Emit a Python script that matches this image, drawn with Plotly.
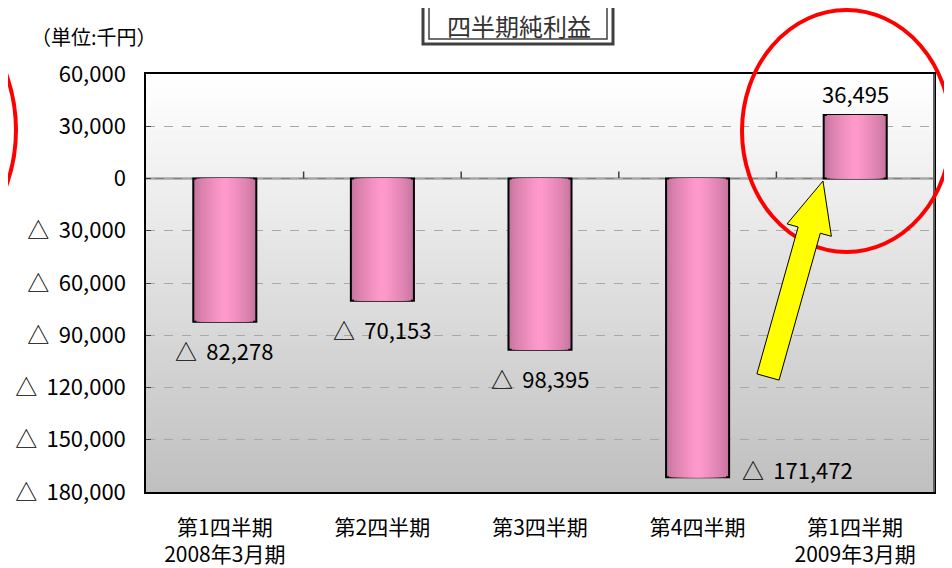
import plotly.graph_objects as go

# data
categories = ["第1四半期<br>2008年3月期", "第2四半期", "第3四半期", "第4四半期", "第1四半期<br>2009年3月期"]
profits = [-82278, -70153, -98395, -171472, 36495]
tick_vals = [60000, 30000, 0, -30000, -60000, -90000, -120000, -150000, -180000]
tick_text = ["60,000", "30,000", "0", "△\u2009 30,000", "△\u2009 60,000", "△\u2009 90,000",
             "△\u2009 120,000", "△\u2009 150,000", "△\u2009 180,000"]

# the page body has an 8px margin, so lay out in screen pixels and shift
OFF = 8
W, H = 952, 568
PL, PT, PW, PH = 146, 74, 788, 418          # plot area on screen
L, T = PL - OFF, PT - OFF
R, B = W - L - PW, H - T - PH
FONT = "Noto Sans CJK JP"


def px(x, y):
    # screen pixel -> paper coords
    return (x - PL) / PW, (PT + PH - y) / PH


def mix(c1, c2, t):
    return "rgb(%d,%d,%d)" % tuple(round(a + (b - a) * t) for a, b in zip(c1, c2))


fig = go.Figure()

# bars: overlaid narrower bars fake the horizontal gradient
x = list(range(len(categories)))
steps = 10
for i in range(steps):
    t = i / (steps - 1)
    w = 0.4 * (1 - t) + 0.04 * t
    fig.add_trace(go.Bar(
        x=x, y=profits, width=w,
        marker=dict(color=mix((200, 118, 160), (255, 153, 204), t ** 0.8),
                    line=dict(color="black", width=2 if i == 0 else 0)),
        hoverinfo="skip", showlegend=False,
    ))

# value labels
for i, v in enumerate(profits):
    text = f"{v:,}" if v >= 0 else f"△\u2009 {abs(v):,}"
    if v >= 0:
        fig.add_annotation(x=i, y=v, text=text, showarrow=False, yanchor="bottom", yshift=4)
    elif v < -150000:
        fig.add_annotation(x=i, y=v, text=text, showarrow=False, xanchor="left",
                           xshift=42, yanchor="middle", yshift=8)
    else:
        fig.add_annotation(x=i, y=v, text=text, showarrow=False, yanchor="top", yshift=-10)

# background gradient of the plot area (overlapping strips, no seams)
n = 60
for k in range(n):
    t = k / (n - 1)
    fig.add_shape(type="rect", xref="x domain", yref="y domain",
                  x0=0, x1=1, y0=0, y1=1 - k / n,
                  fillcolor=mix((255, 255, 255), (192, 192, 192), t),
                  line=dict(width=0), layer="below")

# zero line and category ticks on it
fig.add_shape(type="line", xref="x domain", yref="y", x0=0, x1=1, y0=0, y1=0,
              line=dict(color="#808080", width=2), layer="below")
for b in [0.5, 1.5, 2.5, 3.5]:
    fig.add_shape(type="line", xref="x", yref="y", x0=b, x1=b, ysizemode="pixel",
                  yanchor=0, y0=0, y1=7, line=dict(color="#404040", width=1.5), layer="below")

# right border is grey in the original
fig.add_shape(type="line", xref="x domain", yref="y domain", x0=1, x1=1, y0=0, y1=1,
              line=dict(color="#606060", width=2))

# title box (double border)
for (x0, y0, x1, y1, lw) in [(423, -20, 613, 44, 3), (429, -20, 607, 39, 1.5)]:
    a0, b0 = px(x0, y1)
    a1, b1 = px(x1, y0)
    fig.add_shape(type="rect", xref="paper", yref="paper", x0=a0, y0=b0, x1=a1, y1=b1,
                  line=dict(color="#404040", width=lw), fillcolor="rgba(0,0,0,0)")
tx, ty = px(519, 25)
fig.add_annotation(xref="paper", yref="paper", x=tx, y=ty, text="四半期純利益",
                   xanchor="center", yanchor="middle", showarrow=False,
                   font=dict(size=24, color="#333333"))

ux, uy = px(94, 36)
fig.add_annotation(xref="paper", yref="paper", x=ux, y=uy, text="（単位:千円）",
                   xanchor="center", yanchor="middle", showarrow=False, font=dict(size=20))

# red ellipses
for (x0, y0, x1, y1) in [(742, 10, 951, 252), (-224, -11, 16, 271)]:
    a0, b0 = px(x0, y1)
    a1, b1 = px(x1, y0)
    fig.add_shape(type="circle", xref="paper", yref="paper", x0=a0, y0=b0, x1=a1, y1=b1,
                  line=dict(color="red", width=4))

# yellow arrow
tip = (823, 181)
tail = (768, 377)
dx, dy = tip[0] - tail[0], tip[1] - tail[1]
ln = (dx * dx + dy * dy) ** 0.5
ux_, uy_ = dx / ln, dy / ln
nx, ny = -uy_, ux_
hl, hw, sw = 51, 23, 11.5
bx, by = tip[0] - ux_ * hl, tip[1] - uy_ * hl
pts = [
    (tail[0] + nx * sw, tail[1] + ny * sw),
    (bx + nx * sw, by + ny * sw),
    (bx + nx * hw, by + ny * hw),
    tip,
    (bx - nx * hw, by - ny * hw),
    (bx - nx * sw, by - ny * sw),
    (tail[0] - nx * sw, tail[1] - ny * sw),
]
path = "M " + " L ".join("%f,%f" % px(*p) for p in pts) + " Z"
fig.add_shape(type="path", xref="paper", yref="paper", path=path,
              fillcolor="#ffff00", line=dict(color="black", width=1))

fig.update_layout(
    width=W, height=H,
    margin=dict(l=L, r=R, t=T, b=B),
    paper_bgcolor="white", plot_bgcolor="rgba(0,0,0,0)",
    barmode="overlay",
    font=dict(family=FONT, size=22, color="black"),
    xaxis=dict(tickmode="array", tickvals=x, ticktext=categories, range=[-0.5, 4.5],
               showline=True, linecolor="black", linewidth=1.5, mirror=True,
               ticks="", ticklabelstandoff=16, tickfont=dict(size=21), automargin=False),
    yaxis=dict(tickmode="array", tickvals=tick_vals, ticktext=tick_text,
               range=[-180000, 60000], showline=True, linecolor="black", linewidth=1.5,
               mirror=True, showgrid=True, gridcolor="#a8a8a8", griddash="dash",
               gridwidth=1, zeroline=False, ticks="inside", ticklen=5, tickcolor="#404040",
               ticklabelstandoff=14, automargin=False),
)

fig.write_html("out.html")
